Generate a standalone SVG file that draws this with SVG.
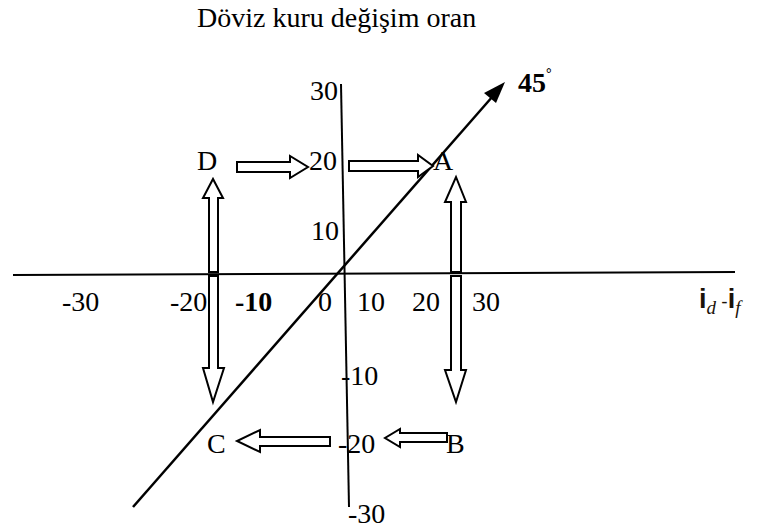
<svg xmlns="http://www.w3.org/2000/svg" width="767" height="528" viewBox="0 0 767 528">
<style>
.t{font-family:"Liberation Serif","Times New Roman",serif;font-size:28px;fill:#000}
.ax{stroke:#000;stroke-width:2;fill:none}
.ba{stroke:#000;stroke-width:2;fill:#fff;stroke-linejoin:miter}
</style>
<rect width="767" height="528" fill="#fff"/>
<text class="t" x="197" y="27" font-size="24.7">Döviz kuru değişim oran</text>
<g id="connectors">
<line class="ax" x1="13" y1="275" x2="735" y2="272"/>
<line class="ax" x1="341" y1="84" x2="349" y2="507"/>
<line x1="133" y1="507" x2="500" y2="88" stroke="#000" stroke-width="2.5"/>
<path d="M505,82 L484,93 L496,103 z" fill="#000"/>
</g>
<g id="arrow-D-20">
<path class="ba" d="M237,162 L290,162 L290,156 L308,167 L290,178 L290,172 L237,172 z"/>
</g>
<g id="arrow-20-A">
<path class="ba" d="M349,161 L418,161 L418,155 L433,166 L418,177 L418,171 L349,171 z"/>
</g>
<g id="arrow-B-20">
<path class="ba" d="M447,433 L400,433 L400,429 L385,438 L400,447 L400,442 L447,442 z"/>
</g>
<g id="arrow-20-C">
<path class="ba" d="M330,437 L260,437 L260,430 L237,441 L260,452 L260,446 L330,446 z"/>
</g>
<g id="arrow-D-updown">
<path class="ba" d="M209,272 L209,198 L203,198 L213,179 L223,198 L218,198 L218,272 z"/>
<path class="ba" d="M209,276 L209,368 L203,368 L213,402 L224,368 L218,368 L218,276 z"/>
</g>
<g id="arrow-A-updown">
<path class="ba" d="M451,272 L451,202 L445,202 L456,177 L466,202 L461,202 L461,272 z"/>
<path class="ba" d="M451,276 L451,370 L445,370 L456,402 L466,370 L461,370 L461,276 z"/>
</g>
<g id="labels">
<text class="t" x="310" y="100">30</text>
<text class="t" x="309" y="170">20</text>
<text class="t" x="311" y="240">10</text>
<text class="t" x="341" y="385">-10</text>
<text class="t" x="338" y="453">-20</text>
<text class="t" x="348" y="523">-30</text>
<text class="t" x="62" y="311">-30</text>
<text class="t" x="170" y="311">-20</text>
<text class="t" x="235" y="311" font-weight="bold">-10</text>
<text class="t" x="318" y="311">0</text>
<text class="t" x="357" y="311">10</text>
<text class="t" x="412" y="311">20</text>
<text class="t" x="472" y="311">30</text>
</g>
<g id="node-D"><text class="t" x="197" y="170">D</text></g>
<g id="node-A"><text class="t" x="433" y="170">A</text></g>
<g id="node-B"><text class="t" x="446" y="453">B</text></g>
<g id="node-C"><text class="t" x="207" y="453">C</text></g>
<g id="label-45"><text x="518" y="92" font-family="Liberation Serif,serif" font-weight="bold" font-size="28">45<tspan font-size="14" dy="-14">°</tspan></text></g>
<g id="axis-label"><text x="699" y="308" font-family="Liberation Sans,Arial,sans-serif" font-size="27" font-weight="bold" fill="#1a1208">i<tspan font-size="19" font-style="italic" font-weight="normal" font-family="Liberation Serif,serif" dy="6">d</tspan><tspan dy="-6" font-weight="normal" font-size="19"> -</tspan><tspan>i</tspan><tspan font-size="19" font-style="italic" font-weight="normal" font-family="Liberation Serif,serif" dy="6">f</tspan></text></g>
</svg>
